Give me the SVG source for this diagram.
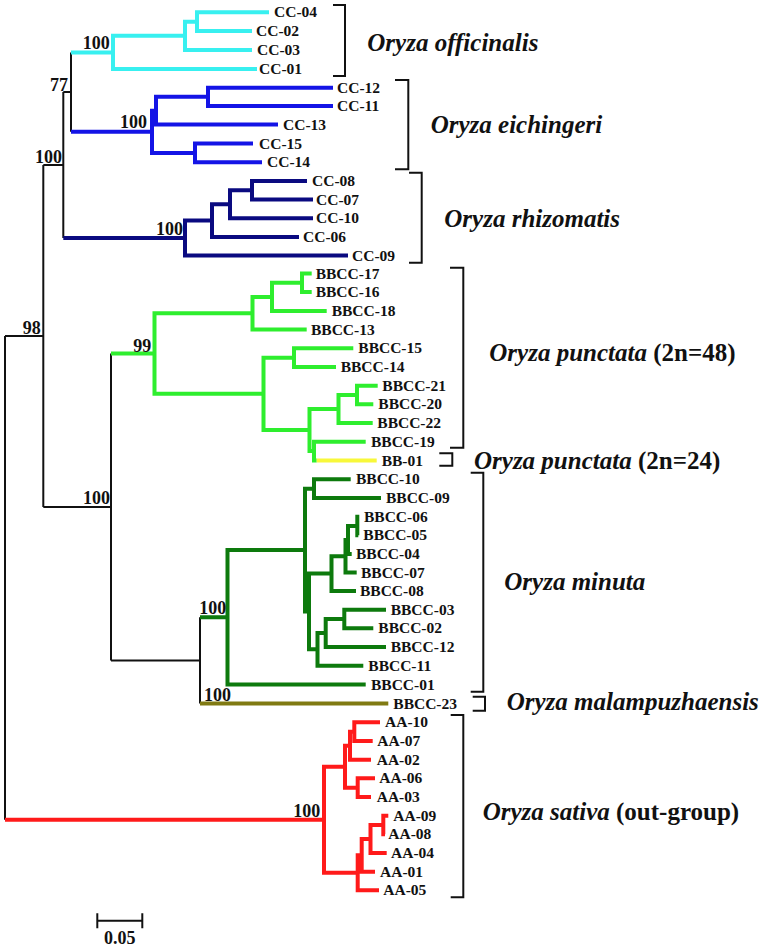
<svg xmlns="http://www.w3.org/2000/svg" width="763" height="951" viewBox="0 0 763 951">
<style>
.br{fill:none;stroke-linejoin:miter;stroke-linecap:butt}
.k{stroke:#111;stroke-width:2}
.cy{stroke:#38F0F0;stroke-width:4}
.bl{stroke:#1414E6;stroke-width:4}
.nv{stroke:#0A0A80;stroke-width:4}
.gr{stroke:#2EEE2E;stroke-width:4}
.ye{stroke:#F8F83A;stroke-width:4}
.dg{stroke:#0D7A0D;stroke-width:4}
.ol{stroke:#807A12;stroke-width:4}
.rd{stroke:#FF1A1A;stroke-width:4}
.bk{fill:none;stroke:#111;stroke-width:2}
text{font-family:"Liberation Serif","Times New Roman",serif;fill:#111}
.lf{font-size:15.5px;font-weight:bold}
.bs{font-size:18px;font-weight:bold}
.sp{font-size:25px;font-weight:bold;font-style:italic}
.up{font-style:normal}
</style>
<rect width="763" height="951" fill="#fff"/>
<g id="connectors">
<path class="br k" d="M71 52.4 V131.8 M63.3 92.1 H71 M63.3 92.1 V238 M43.3 165.05 H63.3 M43.3 165.05 V506.95 M5 336 H43.3 M43.3 506.95 H111 M111 353.5 V660.4 M111 660.4 H200 M200 617.3 V703.5 M5 336 V819.75"/>
<path class="br cy" d="M269 12.3 H197 V31 H252 M197 21.65 H185 V50 H252 M185 35.8 H113 V69 H257 M71 52.4 H113"/>
<path class="br bl" d="M333 87.7 H208 V106 H333 M208 96.85 H156 V124.5 H278 M253 143.5 H195 V162.3 H262 M156 110.7 H152 V152.9 H195 M71 131.8 H152"/>
<path class="br nv" d="M307 181 H252 V199.5 H313 M252 190.25 H230 V218.3 H313 M230 204.3 H212 V237 H299 M212 220.6 H185 V255.5 H348 M63.3 238 H185"/>
<path class="br gr" d="M311.7 273.5 H302 V292 H311.7 M302 282.75 H272 V311 H326.7 M272 296.9 H252.5 V329.5 H306.7 M353.3 348.3 H294 V367 H336 M377.7 385.7 H357 V404.3 H373.3 M357 395 H338.5 V423 H372.7 M365.7 441.7 H314 V460.5 H316.7 M338.5 409 H309.5 V451.1 H314 M294 357.65 H263.5 V430.05 H309.5 M252.5 313.2 H154.5 V393.85 H263.5 M111 353.5 H154.5"/>
<path class="br ye" d="M316.7 460.5 H376.7"/>
<path class="br dg" d="M350.7 479.3 H314 V498 H381 M359.3 516.7 H357.3 V535.3 H358.3 M357.3 526 H348 V554 H351.7 M348 540 H345.5 V572.5 H356.7 M345.5 556.25 H331.5 V591 H356 M386 609.7 H344.3 V628.3 H373.3 M344.3 619 H325.7 V647 H386 M325.7 633 H317.5 V665.7 H363.3 M331.5 573.6 H309 V649.35 H317.5 M314 488.65 H305 V611.5 H309 M305 550.1 H227.5 V684.5 H365.7 M200 617.3 H227.5"/>
<path class="br ol" d="M200 703.5 H388.3"/>
<path class="br rd" d="M380 722.3 H354.3 V741 H372.7 M354.3 731.65 H350 V759.7 H371 M375 778.3 H357.7 V797 H371 M350 745.7 H345 V787.65 H357.7 M388.3 815.7 H383.3 V834.3 H385 M383.3 825 H370.5 V853 H386.7 M370.5 839 H361.7 V871.7 H375 M361.7 855.35 H357.7 V890.3 H379 M345 766.7 H324 V872.8 H357.7 M5 819.75 H324"/>
</g>
<g id="brackets">
<path class="bk" d="M333 5 H345 V76 H333"/>
<path class="bk" d="M395 80 H408.3 V169.3 H395"/>
<path class="bk" d="M409 172.7 H421.7 V262.7 H409"/>
<path class="bk" d="M450 267.7 H463.3 V447.7 H450"/>
<path class="bk" d="M439.3 453.3 H452.3 V465.7 H439.3"/>
<path class="bk" d="M470.7 472.7 H483.3 V691.7 H470.7"/>
<path class="bk" d="M472.7 696.7 H485 V710.7 H472.7"/>
<path class="bk" d="M450.7 715 H463.3 V897.3 H450.7"/>
</g>
<g id="bootstrap" class="bs">
<text x="82.7" y="49">100</text>
<text x="50" y="90.7">77</text>
<text x="120" y="128.3">100</text>
<text x="35" y="163.3">100</text>
<text x="156" y="235">100</text>
<text x="22.7" y="334">98</text>
<text x="133.3" y="351.5">99</text>
<text x="83" y="504">100</text>
<text x="199.3" y="613.8">100</text>
<text x="204" y="700.5">100</text>
<text x="293.3" y="816.5">100</text>
</g>
<g class="lf">
<g id="leaf-CC-04"><text x="274" y="17.3">CC-04</text></g>
<g id="leaf-CC-02"><text x="256" y="36">CC-02</text></g>
<g id="leaf-CC-03"><text x="257" y="55">CC-03</text></g>
<g id="leaf-CC-01"><text x="259" y="74">CC-01</text></g>
<g id="leaf-CC-12"><text x="337" y="92.7">CC-12</text></g>
<g id="leaf-CC-11"><text x="337" y="111">CC-11</text></g>
<g id="leaf-CC-13"><text x="283" y="129.5">CC-13</text></g>
<g id="leaf-CC-15"><text x="259" y="148.5">CC-15</text></g>
<g id="leaf-CC-14"><text x="267" y="167.3">CC-14</text></g>
<g id="leaf-CC-08"><text x="312" y="186">CC-08</text></g>
<g id="leaf-CC-07"><text x="316" y="204.5">CC-07</text></g>
<g id="leaf-CC-10"><text x="316" y="223.3">CC-10</text></g>
<g id="leaf-CC-06"><text x="303" y="242">CC-06</text></g>
<g id="leaf-CC-09"><text x="352" y="260.5">CC-09</text></g>
<g id="leaf-BBCC-17"><text x="315.7" y="278.5">BBCC-17</text></g>
<g id="leaf-BBCC-16"><text x="315.7" y="297">BBCC-16</text></g>
<g id="leaf-BBCC-18"><text x="331.7" y="316">BBCC-18</text></g>
<g id="leaf-BBCC-13"><text x="311" y="334.5">BBCC-13</text></g>
<g id="leaf-BBCC-15"><text x="358.3" y="353.3">BBCC-15</text></g>
<g id="leaf-BBCC-14"><text x="340.7" y="372">BBCC-14</text></g>
<g id="leaf-BBCC-21"><text x="382.3" y="390.7">BBCC-21</text></g>
<g id="leaf-BBCC-20"><text x="378.3" y="409.3">BBCC-20</text></g>
<g id="leaf-BBCC-22"><text x="377.3" y="428">BBCC-22</text></g>
<g id="leaf-BBCC-19"><text x="371" y="446.7">BBCC-19</text></g>
<g id="leaf-BB-01"><text x="381.7" y="465.5">BB-01</text></g>
<g id="leaf-BBCC-10"><text x="356" y="484.3">BBCC-10</text></g>
<g id="leaf-BBCC-09"><text x="386" y="503">BBCC-09</text></g>
<g id="leaf-BBCC-06"><text x="364" y="521.7">BBCC-06</text></g>
<g id="leaf-BBCC-05"><text x="363.3" y="540.3">BBCC-05</text></g>
<g id="leaf-BBCC-04"><text x="356" y="559">BBCC-04</text></g>
<g id="leaf-BBCC-07"><text x="361" y="577.5">BBCC-07</text></g>
<g id="leaf-BBCC-08"><text x="360" y="596">BBCC-08</text></g>
<g id="leaf-BBCC-03"><text x="390.7" y="614.7">BBCC-03</text></g>
<g id="leaf-BBCC-02"><text x="378.3" y="633.3">BBCC-02</text></g>
<g id="leaf-BBCC-12"><text x="390.7" y="652">BBCC-12</text></g>
<g id="leaf-BBCC-11"><text x="368.3" y="670.7">BBCC-11</text></g>
<g id="leaf-BBCC-01"><text x="371" y="689.5">BBCC-01</text></g>
<g id="leaf-BBCC-23"><text x="393.3" y="708.5">BBCC-23</text></g>
<g id="leaf-AA-10"><text x="385" y="727.3">AA-10</text></g>
<g id="leaf-AA-07"><text x="377.3" y="746">AA-07</text></g>
<g id="leaf-AA-02"><text x="376.7" y="764.7">AA-02</text></g>
<g id="leaf-AA-06"><text x="379.3" y="783.3">AA-06</text></g>
<g id="leaf-AA-03"><text x="376.7" y="802">AA-03</text></g>
<g id="leaf-AA-09"><text x="393.3" y="820.7">AA-09</text></g>
<g id="leaf-AA-08"><text x="388.3" y="839.3">AA-08</text></g>
<g id="leaf-AA-04"><text x="391" y="858">AA-04</text></g>
<g id="leaf-AA-01"><text x="380" y="876.7">AA-01</text></g>
<g id="leaf-AA-05"><text x="383.3" y="895.3">AA-05</text></g>
</g>
<g class="sp">
<g id="sp-officinalis"><text x="367.3" y="50.5">Oryza officinalis</text></g>
<g id="sp-eichingeri"><text x="430.7" y="133">Oryza eichingeri</text></g>
<g id="sp-rhizomatis"><text x="444.3" y="227">Oryza rhizomatis</text></g>
<g id="sp-punctata48"><text x="489.3" y="361.3">Oryza punctata <tspan class="up">(2n=48)</tspan></text></g>
<g id="sp-punctata24"><text x="474" y="468.5">Oryza punctata <tspan class="up">(2n=24)</tspan></text></g>
<g id="sp-minuta"><text x="504.3" y="590.3">Oryza minuta</text></g>
<g id="sp-malampuzhaensis"><text x="506.7" y="710.3">Oryza malampuzhaensis</text></g>
<g id="sp-sativa"><text x="482.7" y="820.3">Oryza sativa <tspan class="up">(out-group)</tspan></text></g>
</g>
<g id="scale-bar">
<path class="bk" d="M97.3 920.7 H142.3 M97.3 913.3 V928.3 M142.3 913.3 V928.3"/>
<text class="bs" x="119.8" y="944" text-anchor="middle">0.05</text>
</g>
</svg>
